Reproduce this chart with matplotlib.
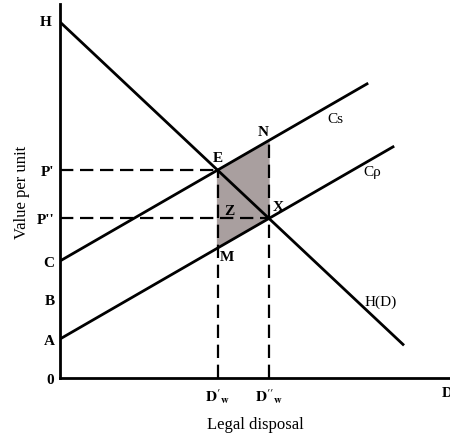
import numpy as np
import matplotlib.pyplot as plt

# Demand for disposal H(D) and the two cost lines (Cs social, Cp private)
h_intercept = 356
h_slope = -0.94
h_end = 343

cs_intercept = 117
cs_slope = 0.577
cs_end = 307

cp_intercept = 39
cp_slope = 0.577
cp_end = 333

b_level = 79

# y tick labels (top to bottom handled by values)
y_labels = ["P'", "P''", "C", "B", "A", "0"]
x_labels = [r"$\mathbf{D'_w}$", r"$\mathbf{D''_w}$", "D"]

# intersections
x_e = (h_intercept - cs_intercept) / (cs_slope - h_slope)
x_x = (h_intercept - cp_intercept) / (cp_slope - h_slope)
y_e = h_intercept + h_slope * x_e
y_x = h_intercept + h_slope * x_x
y_n = cs_intercept + cs_slope * x_x
y_m = cp_intercept + cp_slope * x_e

plt.rcParams['mathtext.fontset'] = 'stix'
plt.rcParams['font.family'] = ['Liberation Serif', 'DejaVu Serif']

fig = plt.figure(figsize=(4.5, 4.39), dpi=100)
ax = fig.add_axes([60 / 450, 60 / 439, 390 / 450, 374 / 439])
ax.set_xlim(0, 390)
ax.set_ylim(0, 374)

for side in ["top", "right"]:
    ax.spines[side].set_visible(False)
ax.spines["left"].set_linewidth(2)
ax.spines["bottom"].set_linewidth(2)

# shaded area E-N-X-M
ax.fill([x_e, x_x, x_x, x_e], [y_e, y_n, y_x, y_m], color="#a99f9f", zorder=1)

# solid lines
xs = np.array([0, h_end])
ax.plot(xs, h_intercept + h_slope * xs, color="black", lw=2, zorder=3)
xs = np.array([0, cs_end])
ax.plot(xs, cs_intercept + cs_slope * xs, color="black", lw=2, zorder=3)
xs = np.array([0, cp_end])
ax.plot(xs, cp_intercept + cp_slope * xs, color="black", lw=2, zorder=3)

# dashed guide lines
dash = dict(color="black", lw=1.6, ls=(0, (6, 3)), zorder=2)
ax.plot([0, x_e], [y_e, y_e], **dash)
ax.plot([0, x_x], [y_x, y_x], **dash)
ax.plot([x_e, x_e], [0, y_e], **dash)
ax.plot([x_x, x_x], [0, y_n], **dash)

# ticks
ax.set_yticks([y_e, y_x, cs_intercept, b_level, cp_intercept, 0])
ax.set_yticklabels(y_labels, fontweight="bold", fontsize=11)
ax.set_xticks([x_e, x_x, 387])
ax.set_xticklabels(x_labels, fontweight="bold", fontsize=11)
ax.tick_params(length=0, pad=6)
ax.tick_params(axis="y", pad=4)

ax.set_ylabel("Value per unit", fontsize=12, labelpad=5)
ax.set_xlabel("Legal disposal", fontsize=12, labelpad=8)

# point labels
lab = dict(fontsize=11, fontweight="bold", zorder=4)
ax.text(-8, h_intercept, "H", ha="right", va="center", **lab)
ax.text(x_e, y_e + 6, "E", ha="center", va="bottom", **lab)
ax.text(x_x - 6, y_n + 2, "N", ha="center", va="bottom", **lab)
ax.text(x_x + 4, y_x + 5, "X", ha="left", va="bottom", **lab)
ax.text(x_e + 7, y_x + 1, "Z", ha="left", va="bottom", **lab)
ax.text(x_e + 2, y_m - 2, "M", ha="left", va="top", **lab)
ax.text(cs_end - 40, cs_intercept + cs_slope * (cs_end - 40) - 5, "Cs",
        ha="left", va="top", fontsize=11)
ax.text(cp_end - 30, cp_intercept + cp_slope * (cp_end - 30) - 1, "Cρ",
        ha="left", va="top", fontsize=11)
ax.text(h_end - 38, h_intercept + h_slope * (h_end - 38) + 7, "H(D)",
        ha="left", va="center", fontsize=11)

fig.savefig("out.png", dpi=100)
